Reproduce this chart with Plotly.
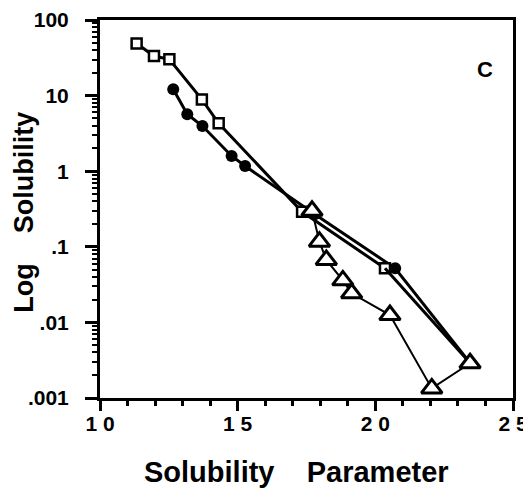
import plotly.graph_objects as go

# Open squares
sq_x = [11.33, 11.96, 12.52, 13.70, 14.31, 17.34, 20.35, 23.44]
sq_y = [49, 33.4, 30.2, 8.9, 4.3, 0.29, 0.052, 0.0029]
# Filled circles
ci_x = [12.66, 13.17, 13.72, 14.78, 15.27, 17.8, 20.72, 23.44]
ci_y = [12.1, 5.66, 3.96, 1.59, 1.17, 0.27, 0.052, 0.0029]
# Open triangles
tr_x = [17.70, 17.97, 18.22, 18.82, 19.14, 20.53, 22.05, 23.44]
tr_y = [0.30, 0.117, 0.067, 0.036, 0.0243, 0.0125, 0.00134, 0.00288]

x_ticks = [10, 15, 20, 25]
x_ticktext = ["1 0", "1 5", "2 0", "2 5"]
y_ticks = [0.001, 0.01, 0.1, 1, 10, 100]
y_ticktext = [".001", ".01", ".1", "1", "10", "100"]

FONT = "Liberation Sans, Arial, sans-serif"

fig = go.Figure()
fig.add_trace(go.Scatter(x=ci_x, y=ci_y, mode="lines+markers",
                         line=dict(color="black", width=3),
                         marker=dict(symbol="circle", size=12, color="black")))
fig.add_trace(go.Scatter(x=sq_x[:-1], y=sq_y[:-1], mode="lines+markers",
                         line=dict(color="black", width=3),
                         marker=dict(symbol="square", size=10, color="white",
                                     line=dict(color="black", width=2.5))))
fig.add_trace(go.Scatter(x=sq_x[-2:], y=sq_y[-2:], mode="lines",
                         line=dict(color="black", width=3)))
fig.add_trace(go.Scatter(x=tr_x, y=tr_y, mode="lines+markers",
                         line=dict(color="black", width=2),
                         marker=dict(symbol="triangle-up", size=18, color="white",
                                     line=dict(color="black", width=3))))

minor_y = [m * 10 ** k for k in range(-3, 2) for m in range(2, 10)]

fig.update_layout(
    width=523, height=490,
    margin=dict(l=92, r=18, t=12, b=100),
    paper_bgcolor="white", plot_bgcolor="white",
    showlegend=False,
    font=dict(family=FONT, color="black"),
    xaxis=dict(
        range=[10, 25], tickmode="array", tickvals=x_ticks, ticktext=x_ticktext,
        showgrid=False, zeroline=False, automargin=False,
        showline=True, linecolor="black", linewidth=3, mirror=True,
        ticks="outside", ticklen=10, tickwidth=3, tickcolor="black",
        tickfont=dict(family=FONT, size=21, weight="bold", color="black"),
        ticklabelstandoff=-5,
        minor=dict(dtick=1, ticks="outside", ticklen=5, tickwidth=3, tickcolor="black", showgrid=False),
    ),
    yaxis=dict(
        type="log", range=[-3, 2], tickmode="array", tickvals=y_ticks, ticktext=y_ticktext,
        showgrid=False, zeroline=False, automargin=False,
        showline=True, linecolor="black", linewidth=3, mirror=True,
        ticks="outside", ticklen=12, tickwidth=3, tickcolor="black",
        tickfont=dict(family=FONT, size=21, weight="bold", color="black"),
        ticklabelstandoff=12,
        minor=dict(tickmode="array", tickvals=minor_y, ticks="outside", ticklen=5,
                   tickwidth=2, tickcolor="black", showgrid=False),
    ),
    annotations=[
        dict(text="C", x=0.931, y=0.87, xref="paper", yref="paper",
             xanchor="center", yanchor="middle",
             showarrow=False, font=dict(family=FONT, size=22, weight="bold", color="black")),
        dict(text="Solubility\u00a0\u00a0\u00a0\u00a0Parameter", x=0.475, y=-0.196,
             xref="paper", yref="paper", xanchor="center", yanchor="middle",
             showarrow=False, font=dict(family=FONT, size=29, weight="bold", color="black")),
        dict(text="Log\u00a0\u00a0\u00a0\u00a0Solubility", x=-0.184, y=0.49,
             xref="paper", yref="paper", xanchor="center", yanchor="middle", textangle=-90,
             showarrow=False, font=dict(family=FONT, size=27, weight="bold", color="black")),
    ],
)

fig.write_html("out.html")
